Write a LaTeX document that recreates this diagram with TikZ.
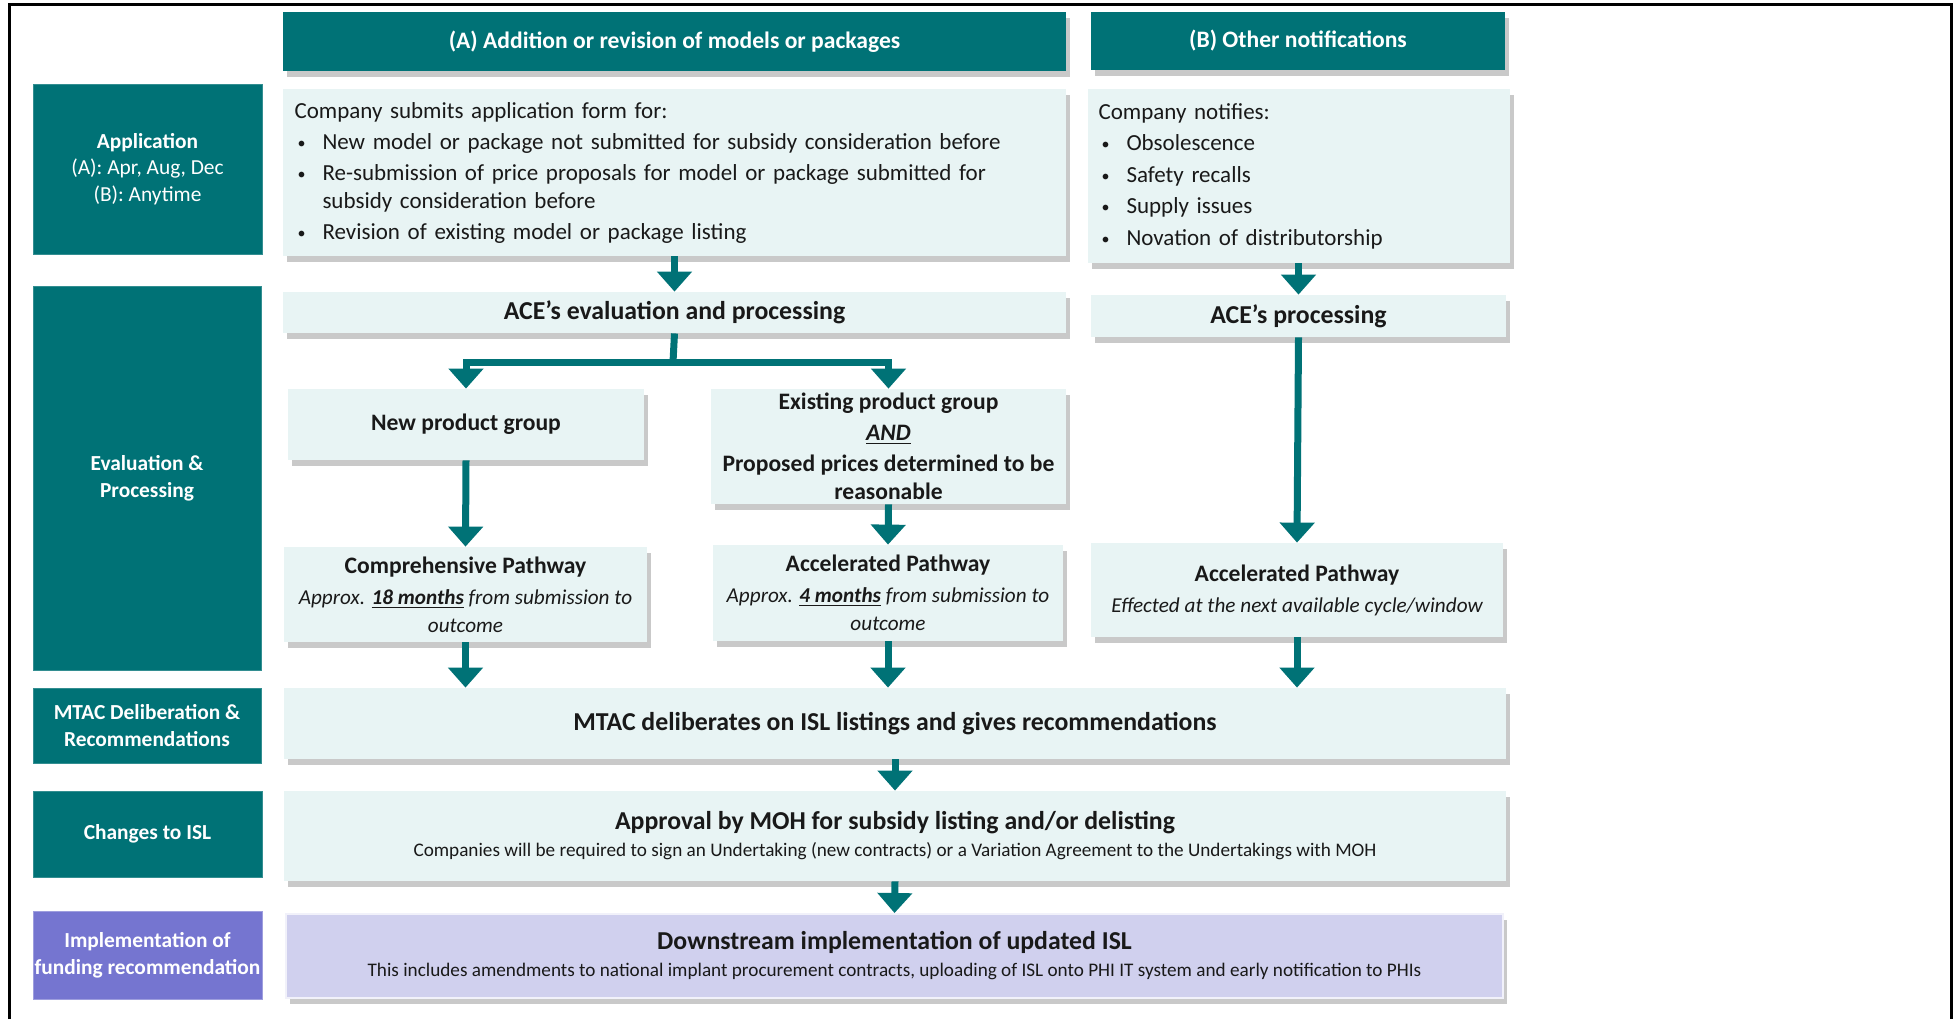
\documentclass[tikz,border=0pt]{standalone}
\usepackage{fontspec}
\setmainfont{Carlito}
\usetikzlibrary{arrows.meta,shadows}
\definecolor{islteal}{RGB}{0,114,118}
\definecolor{isllight}{RGB}{232,244,244}
\definecolor{islpurple}{RGB}{117,117,208}
\definecolor{isllav}{RGB}{208,208,238}
\newcommand\cell[7]{\node[#1, minimum width={(#5-#3)*0.5pt}, minimum height={(#6-#4)*0.5pt}] (#2) at ({(#3+#5)/2},{(#4+#6)/2}) {#7};}
\newcommand\blt{\par\hangindent=14pt\hangafter=1\noindent\makebox[14pt][l]{\hspace{1.5pt}\raisebox{0.5pt}{\fontsize{8}{8}\selectfont\textbullet}}}
\newcommand\itnote{\mdseries\itshape\fontsize{10.6}{13}\selectfont}
\newcommand\notefont{\mdseries\fontsize{9.6}{12}\selectfont}
\begin{document}
\begin{tikzpicture}[x=0.5pt, y=-0.5pt,
	shade/.style={drop shadow={shadow xshift=2pt, shadow yshift=-3pt, opacity=0.3, fill=black!70}},
	hdr/.style={fill=islteal, text=white, inner sep=0pt, shade, font=\bfseries\fontsize{11.8}{14}\selectfont},
	lbl/.style={fill=islteal, draw=islteal!80!white, line width=0.5pt, text=white, inner sep=0pt, align=center, font=\bfseries\fontsize{10.7}{13.3}\selectfont},
	box/.style={fill=isllight, inner sep=0pt, shade, align=center, text=black!90, font=\bfseries\fontsize{11.8}{14}\selectfont},
	big/.style={box, font=\bfseries\fontsize{12.9}{15}\selectfont},
	list/.style={box, inner xsep=5.5pt, text width=380pt, align=left, font=\fontsize{11.5}{14}\selectfont},
	arr/.style={islteal, line width=3.5pt, -{Triangle[width=17pt,length=10pt]}}]
\useasboundingbox (0,0) rectangle (1959,1019);
\draw[black, line width=1.5pt](9,1019)--(9,4)--(1951,4)--(1951,1019);

\cell{hdr}{hdrA}{283}{12}{1066}{71}{(A) Addition or revision of models or packages}
\cell{hdr}{hdrB}{1091}{12}{1505}{70}{(B) Other notifications}

\cell{lbl}{lblApp}{33}{84}{262}{254}{Application\\{\mdseries (A): Apr, Aug, Dec}\\{\mdseries (B): Anytime}}
\cell{lbl}{lblEval}{33}{286}{261}{670}{Evaluation \&\\Processing}
\cell{lbl}{lblMtac}{33}{688}{261}{763}{MTAC Deliberation \&\\Recommendations}
\cell{lbl}{lblIsl}{33}{791}{262}{877}{Changes to ISL}
\cell{lbl, fill=islpurple, draw=islpurple!70!white}{lblImpl}{33}{911}{262}{999}{Implementation of\\funding recommendation}

\cell{list}{appA}{283}{89}{1066}{256}{\parskip=1.5pt Company submits application form for:
\blt New model or package not submitted for subsidy consideration before
\blt Re-submission of price proposals for model or package submitted for\newline subsidy consideration before
\blt Revision of existing model or package listing}
\cell{list, text width=200pt}{appB}{1091}{89}{1506}{263}{\parskip=1.75pt Company notifies:
\blt Obsolescence
\blt Safety recalls
\blt Supply issues
\blt Novation of distributorship}

\cell{big}{aceA}{283}{292}{1066}{333}{ACE’s evaluation and processing}
\cell{big}{aceB}{1091}{295}{1506}{337}{ACE’s processing}
\cell{box}{newgrp}{288}{389}{644}{460}{New product group}
\cell{box}{existgrp}{711}{389}{1066}{504}{Existing product group\\[1.5pt]\underline{\textit{AND}}\\[1.5pt]Proposed prices determined to be\\reasonable}
\cell{box}{comp}{284}{547}{647}{642}{Comprehensive Pathway\\[1.5pt]{\itnote Approx. \underline{\bfseries 18 months} from submission to}\\{\itnote outcome}}
\cell{box}{accA}{713}{545}{1063}{641}{Accelerated Pathway\\[1.5pt]{\itnote Approx. \underline{\bfseries 4 months} from submission to}\\{\itnote outcome}}
\cell{box}{accB}{1091}{543}{1503}{637}{Accelerated Pathway\\[1.5pt]{\itnote Effected at the next available cycle/window}}

\cell{big}{mtac}{284}{688}{1506}{759}{MTAC deliberates on ISL listings and gives recommendations}
\cell{big}{approve}{284}{791}{1506}{881}{Approval by MOH for subsidy listing and/or delisting\\[-1.5pt]{\notefont Companies will be required to sign an Undertaking (new contracts) or a Variation Agreement to the Undertakings with MOH}}
\cell{big, fill=isllav, draw=white!70!isllav, line width=1pt}{down}{286}{914}{1503}{998}{Downstream implementation of updated ISL\\[-1.5pt]{\notefont This includes amendments to national implant procurement contracts, uploading of ISL onto PHI IT system and early notification to PHIs}}

\coordinate (fork) at (673,362);
\draw[arr] (appA.south) -- (aceA.north);
\draw[arr] (appB.south) -- (aceB.north);
\draw[islteal, line width=3.5pt] (aceA.south) -- (fork);
\draw[arr] (fork) -| (newgrp.north);
\draw[arr] (fork) -| (existgrp.north);
\draw[arr] (newgrp.south) -- (comp.north);
\draw[arr] (existgrp.south) -- (accA.north);
\draw[arr] (aceB.south) -- (accB.north);
\foreach \n in {comp, accA, accB}
	\draw[arr] (\n.south) -- (\n.south |- mtac.north);
\draw[arr] (mtac.south) -- (approve.north);
\draw[arr] (approve.south) -- (down.north);
\end{tikzpicture}
\end{document}
